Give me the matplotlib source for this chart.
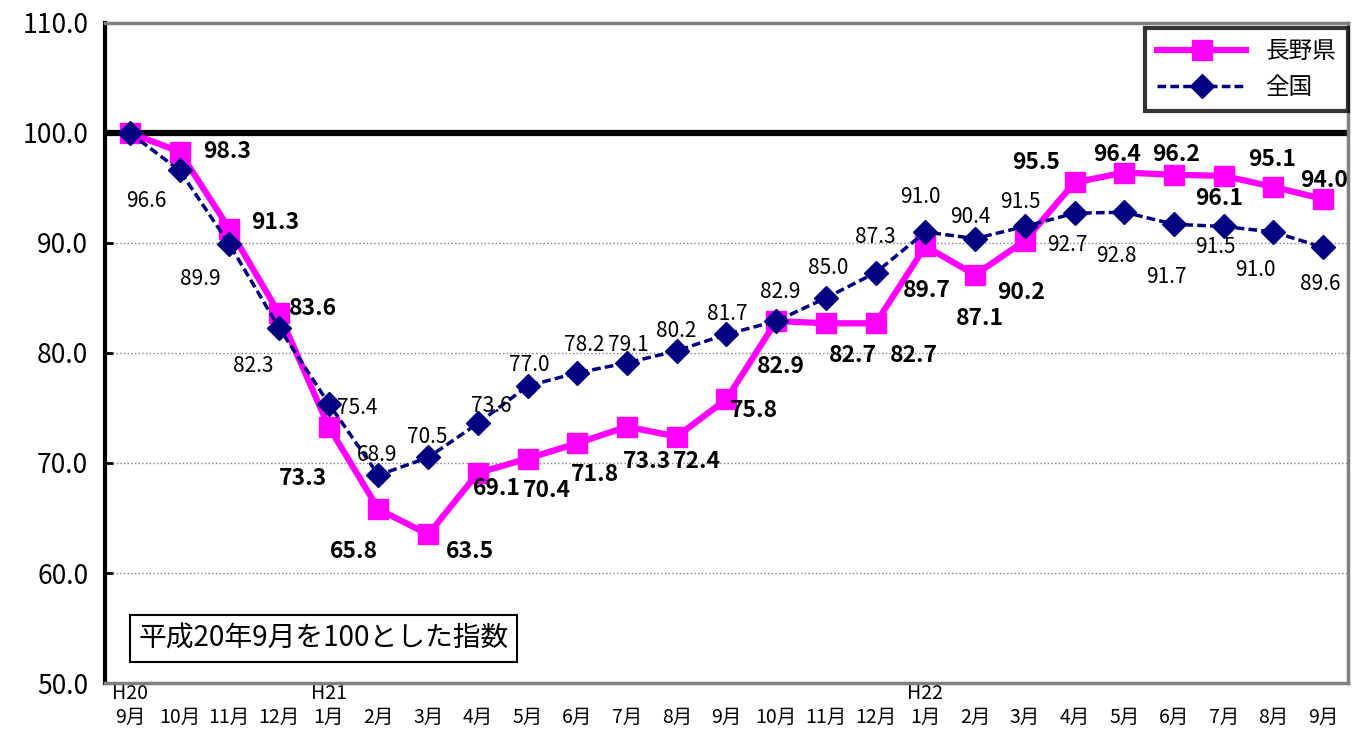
import matplotlib.pyplot as plt

plt.rcParams['font.family'] = ['Noto Sans CJK JP', 'DejaVu Sans']

months = ["9月", "10月", "11月", "12月", "1月", "2月", "3月", "4月", "5月", "6月", "7月", "8月",
          "9月", "10月", "11月", "12月", "1月", "2月", "3月", "4月", "5月", "6月", "7月", "8月", "9月"]
years = {0: "H20", 4: "H21", 16: "H22"}

nagano = [100.0, 98.3, 91.3, 83.6, 73.3, 65.8, 63.5, 69.1, 70.4, 71.8, 73.3, 72.4, 75.8,
          82.9, 82.7, 82.7, 89.7, 87.1, 90.2, 95.5, 96.4, 96.2, 96.1, 95.1, 94.0]
zenkoku = [100.0, 96.6, 89.9, 82.3, 75.4, 68.9, 70.5, 73.6, 77.0, 78.2, 79.1, 80.2, 81.7,
           82.9, 85.0, 87.3, 91.0, 90.4, 91.5, 92.7, 92.8, 91.7, 91.5, 91.0, 89.6]

# label offsets in pixels (dx, dy), first point has no label
nagano_off = [None, (48, 0), (46, 6), (34, 5), (-26, -52), (-25, -42), (42, -17), (19, -16),
              (19, -32), (18, -31), (20, -35), (20, -25), (27, -11), (5, -45), (27, -32),
              (38, -32), (1, -44), (5, -44), (-4, -52), (-38, 20), (-7, 18), (2, 20),
              (-5, -23), (-1, 27), (1, 18)]
zenkoku_off = [None, (-33, -31), (-29, -35), (-26, -38), (28, -4), (-1, 20), (-1, 20), (13, 17),
               (2, 21), (7, 28), (1, 18), (-1, 20), (1, 20), (4, 29), (2, 30), (0, 36),
               (-5, 35), (-5, 22), (-4, 24), (-7, -32), (-8, -44), (-8, -53), (-8, -21),
               (-18, -38), (-3, -37)]

x = list(range(len(months)))

fig = plt.figure(figsize=(13.62, 7.36), dpi=100)
ax = fig.add_axes([0.0771, 0.072, 0.9126, 0.8968])

ax.plot(x, nagano, color='#FF00FF', lw=4.5, marker='s', markersize=15, label='長野県', zorder=3)
ax.plot(x, zenkoku, color='#000080', lw=2.5, ls=(0, (2.5, 1.2)), marker='D', markersize=12,
        label='全国', zorder=4)

ax.axhline(100, color='black', lw=4.5, zorder=2)

for i in x:
    if nagano_off[i] is not None:
        ax.annotate(f"{nagano[i]:.1f}", (i, nagano[i]), xytext=nagano_off[i], textcoords='offset pixels',
                    ha='center', va='center', fontsize=16.5, fontweight='bold', zorder=5)
    if zenkoku_off[i] is not None:
        ax.annotate(f"{zenkoku[i]:.1f}", (i, zenkoku[i]), xytext=zenkoku_off[i], textcoords='offset pixels',
                    ha='center', va='center', fontsize=15, zorder=5)

ax.set_xlim(-0.5, 24.5)
ax.set_ylim(50, 110)
ax.set_yticks([50, 60, 70, 80, 90, 100, 110])
ax.set_yticklabels([f"{v:.1f}" for v in [50, 60, 70, 80, 90, 100, 110]], fontsize=19)
ax.set_xticks(x)
ax.set_xticklabels([(years[i] if i in years else "") + "\n" + m for i, m in enumerate(months)], fontsize=14,
                   linespacing=1.15)
ax.tick_params(axis='x', length=0, pad=0)
ax.tick_params(axis='y', length=6, width=2, direction='in', pad=12)

for v in [60, 70, 80, 90]:
    ax.axhline(v, color='gray', lw=1, ls=':', zorder=1)

ax.spines['left'].set_color('black')
ax.spines['left'].set_linewidth(3)
for s in ['top', 'right', 'bottom']:
    ax.spines[s].set_color('gray')
    ax.spines[s].set_linewidth(2.5)

leg = ax.legend(loc='upper right', bbox_to_anchor=(1.0, 0.992), borderaxespad=0, fontsize=17, frameon=True,
                fancybox=False, edgecolor='black', handlelength=3.8, borderpad=0.5, labelspacing=0.55)
leg.get_frame().set_linewidth(3)

ax.text(0.027, 0.067, "平成20年9月を100とした指数", transform=ax.transAxes, fontsize=20, va='center', ha='left',
        bbox=dict(boxstyle='square,pad=0.3', facecolor='white', edgecolor='black', lw=1.5))

fig.savefig("out.png", dpi=100)
